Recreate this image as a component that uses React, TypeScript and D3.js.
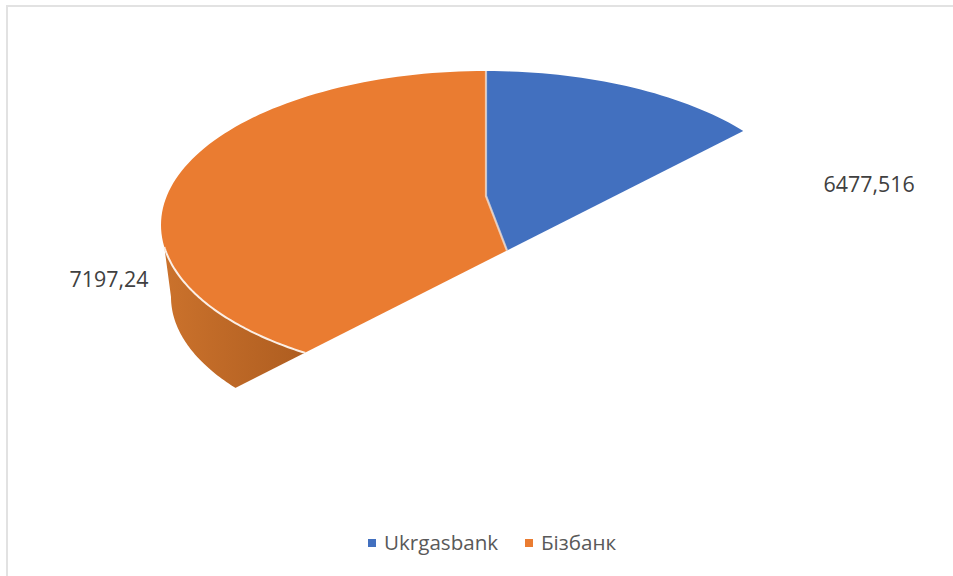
import React from "react";
import * as d3 from "d3";

// Deposits per bank
const categories = ["Ukrgasbank", "Бізбанк"];
const values = [6477.516, 7197.24];
const colors = ["#4270BF", "#EA7C31"];

const W = 953;
const H = 576;
const FONT = "'Open Sans', 'Noto Sans', sans-serif";

// Projected top face and rim of the tilted disc
const top = { cx: 486, cy: 225, rx: 325, ry: 154 };
const rim = { cx: 486, cy: 297, rx: 315, ry: 150 };
const hub = { x: 486, y: 196, tilt: 141 };

type Ellipse = typeof top;
const onEllipse = (e: Ellipse, t: number): [number, number] => [
  e.cx + e.rx * Math.sin(t),
  e.cy - e.ry * Math.cos(t),
];
const sample = (e: Ellipse, a: number, b: number, n = 120) =>
  d3.range(n + 1).map((i) => onEllipse(e, a + ((b - a) * i) / n));

const toPath = d3.line();

export default function App() {
  const arcs = d3.pie<number>().sort(null)(values);
  const seamAngle = arcs[0].endAngle;
  const seamEnd: [number, number] = [
    hub.x + 1.4 * top.rx * Math.sin(seamAngle),
    hub.y - 1.4 * hub.tilt * Math.cos(seamAngle),
  ];
  const hubPt: [number, number] = [hub.x, hub.y];

  const slicePaths = arcs.map((d, i) => {
    const edge = sample(top, d.startAngle, d.endAngle);
    const pts: [number, number][] =
      i === 0 ? [hubPt, ...edge, seamEnd] : [hubPt, seamEnd, ...edge];
    return toPath(pts) + "Z";
  });

  // Wall below the front-left of the disc, from the visible left edge to the cut
  const wallStart = 1.5 * Math.PI - 0.143;
  const wallStop = Math.PI;
  const topEdge = sample(top, wallStop, wallStart);
  const rimEdge = sample(rim, 1.5 * Math.PI, wallStop);
  const wallPath = toPath([...topEdge, ...rimEdge]) + "Z";
  const liftEdge = toPath(topEdge) as string;

  const seam = toPath([[hub.x, top.cy - top.ry], hubPt, seamEnd]) as string;

  const fmt = (v: number) => String(v).replace(".", ",");

  return (
    <svg
      width={W}
      height={H}
      viewBox={`0 0 ${W} ${H}`}
      style={{ position: "absolute", left: 0, top: 0, background: "#fff" }}
    >
      <defs>
        <clipPath id="cut">
          <polygon points="0,0 953,0 953,24.8 0,507" />
        </clipPath>
        <linearGradient id="wall" gradientUnits="userSpaceOnUse" x1="163" x2="306" y1="0" y2="0">
          <stop offset="0" stopColor="#CB722C" />
          <stop offset="1" stopColor="#AE5D20" />
        </linearGradient>
      </defs>

      <path d="M7,576V6H953" fill="none" stroke="#E2E2E2" strokeWidth={2} />

      <g clipPath="url(#cut)">
        <path d={wallPath} fill="url(#wall)" />
        {slicePaths.map((d, i) => (
          <path key={categories[i]} d={d} fill={colors[i]} />
        ))}
        <path d={seam} fill="none" stroke="#F2E3DA" strokeOpacity={0.75} strokeWidth={2.2} />
        <path d={liftEdge} fill="none" stroke="#FBEFE6" strokeWidth={2} />
      </g>

      <g fontFamily={FONT} fontSize={21.4} fill="#404040">
        <text x={823.5} y={192}>{fmt(values[0])}</text>
        <text x={69.5} y={287}>{fmt(values[1])}</text>
      </g>

      <g fontFamily={FONT} fontSize={20.6} fill="#595959">
        <rect x={368} y={539} width={8} height={8} fill={colors[0]} />
        <text x={384} y={549.5}>{categories[0]}</text>
        <rect x={525} y={539} width={8} height={8} fill={colors[1]} />
        <text x={541} y={549.5}>{categories[1]}</text>
      </g>
    </svg>
  );
}
